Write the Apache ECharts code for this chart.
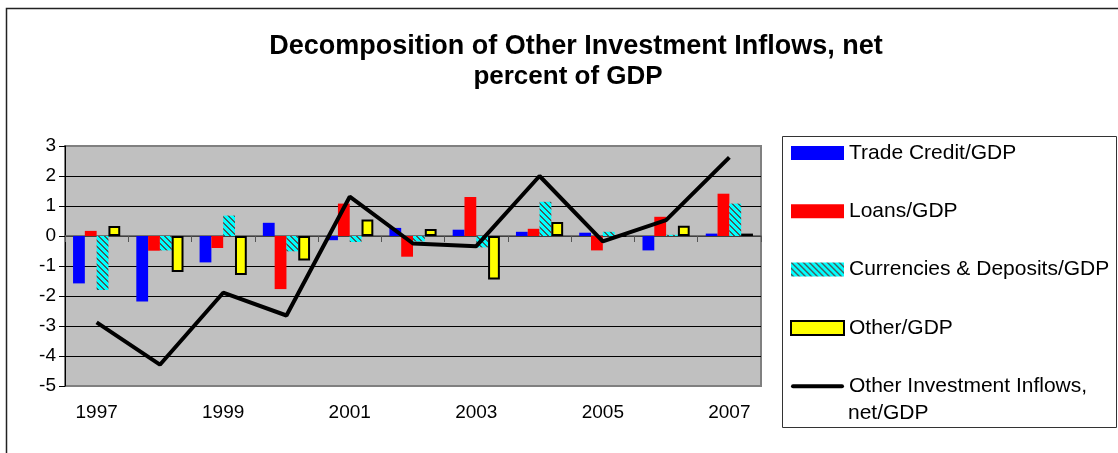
<!DOCTYPE html>
<html>
<head>
<meta charset="utf-8">
<script src="https://cdn.jsdelivr.net/npm/echarts@6/dist/echarts.min.js"></script>
<style>
html,body{margin:0;padding:0;background:#fff;}
#chart{width:1118px;height:453px;}
</style>
</head>
<body>
<div id="chart"></div>
<script>
// ---- data ----
const years = ['1997','1998','1999','2000','2001','2002','2003','2004','2005','2006','2007'];
const tradeCredit = [-1.58, -2.18, -0.88, 0.44, -0.14, 0.27, 0.21, 0.14, 0.11, -0.48, 0.08];
const loans       = [0.17, -0.49, -0.40, -1.77, 1.08, -0.69, 1.30, 0.24, -0.48, 0.64, 1.41];
const currencies  = [-1.80, -0.48, 0.68, -0.51, -0.20, -0.18, -0.38, 1.14, 0.14, 0.04, 1.08];
const other       = [0.33, -1.20, -1.30, -0.82, 0.55, 0.23, -1.45, 0.47, 0.00, 0.34, 0.08];
const totalInflows = [-2.88, -4.29, -1.89, -2.65, 1.31, -0.25, -0.34, 2.00, -0.18, 0.53, 2.62];
const seriesNames = ['Trade Credit/GDP','Loans/GDP','Currencies & Deposits/GDP','Other/GDP','Other Investment Inflows, net/GDP'];
const titleLines = ['Decomposition of Other Investment Inflows, net','percent of GDP'];
const yTicks = {min: -5, max: 3, interval: 1};

// hatch pattern for currencies & deposits
const pc = document.createElement('canvas');
const N = 6;
pc.width = N; pc.height = N;
const pctx = pc.getContext('2d');
for (let x = 0; x < N; x++) {
  for (let y = 0; y < N; y++) {
    pctx.fillStyle = (((x - y) % N + N) % N) < 2 ? '#4a5a5a' : '#00ffff';
    pctx.fillRect(x, y, 1, 1);
  }
}

const FONT = '"Liberation Sans", Arial, sans-serif';
const chart = echarts.init(document.getElementById('chart'), null, {renderer: 'canvas'});
const barW = 11.8;

chart.setOption({
  animation: false,
  backgroundColor: '#ffffff',
  title: [
    {text: titleLines[0], left: 571, top: 28, textAlign: 'center',
     textStyle: {fontFamily: FONT, fontSize: 27, fontWeight: 'bold', color: '#000'}},
    {text: titleLines[1], left: 563, top: 59, textAlign: 'center',
     textStyle: {fontFamily: FONT, fontSize: 26, fontWeight: 'bold', color: '#000'}}
  ],
  grid: {left: 65, right: 357, top: 146, bottom: 67, show: true,
         backgroundColor: '#c0c0c0', borderColor: '#808080', borderWidth: 2},
  legend: {
    orient: 'vertical', left: 790, top: 141, padding: 0,
    itemWidth: 53, itemHeight: 14, itemGap: 34.3,
    data: [
      {name: seriesNames[0], icon: 'rect'},
      {name: seriesNames[1], icon: 'rect'},
      {name: seriesNames[2], icon: 'rect'},
      {name: seriesNames[3], icon: 'rect'},
      {name: seriesNames[4], icon: 'path://M2,0 L51,0 A2,2 0 0 1 51,4 L2,4 A2,2 0 0 1 2,0 Z'}
    ],
    formatter: n => n === seriesNames[4] ? 'Other Investment Inflows,' : n,
    textStyle: {fontFamily: FONT, fontSize: 21, lineHeight: 24, color: '#000'}
  },
  graphic: [
    {type: 'rect', shape: {x: 6.5, y: 8.5, width: 1200, height: 600},
     style: {fill: null, stroke: '#222', lineWidth: 1.5}, silent: true, z: -1},
    {type: 'rect', shape: {x: 782.5, y: 136.5, width: 334, height: 291},
     style: {fill: null, stroke: '#333', lineWidth: 1}, silent: true},
    {type: 'text', left: 848, top: 403,
     style: {text: 'net/GDP', font: '21px ' + FONT, fill: '#000'}}
  ],
  xAxis: [
    {type: 'category', data: years, position: 'bottom',
     axisLine: {onZero: true, lineStyle: {color: '#555', width: 1.5}},
     axisTick: {show: true, interval: 0, length: 6, lineStyle: {color: '#555', width: 1}},
     axisLabel: {show: false}, splitLine: {show: false}},
    {type: 'category', data: years, position: 'bottom',
     axisLine: {show: false, onZero: false}, axisTick: {show: false},
     axisLabel: {interval: 1, margin: 17, fontFamily: FONT, fontSize: 19, color: '#000'}}
  ],
  yAxis: {
    type: 'value', min: yTicks.min, max: yTicks.max, interval: yTicks.interval,
    axisLine: {show: true, lineStyle: {color: '#000', width: 1}},
    axisTick: {show: true, length: 6, lineStyle: {color: '#000'}},
    axisLabel: {margin: 9, fontFamily: FONT, fontSize: 19, color: '#000'},
    splitLine: {show: true, lineStyle: {color: ['#808080','#000','#000','#000','#000','#000','#000','#000','#808080'], width: 1}}
  },
  series: [
    {name: seriesNames[0], type: 'bar', data: tradeCredit, barWidth: barW, barGap: '0%',
     itemStyle: {color: '#0000ff'}},
    {name: seriesNames[1], type: 'bar', data: loans, barWidth: barW, barGap: '0%',
     itemStyle: {color: '#ff0000'}},
    {name: seriesNames[2], type: 'bar', data: currencies, barWidth: barW, barGap: '0%',
     itemStyle: {color: {image: pc, repeat: 'repeat'}}},
    {name: seriesNames[3], type: 'bar', data: other, barWidth: barW, barGap: '0%',
     itemStyle: {color: '#ffff00', borderColor: '#000', borderWidth: 2}},
    {name: seriesNames[4], type: 'line', data: totalInflows, symbol: 'none', z: 10,
     lineStyle: {color: '#000', width: 4}, itemStyle: {color: '#000'}}
  ]
});
</script>
</body>
</html>
